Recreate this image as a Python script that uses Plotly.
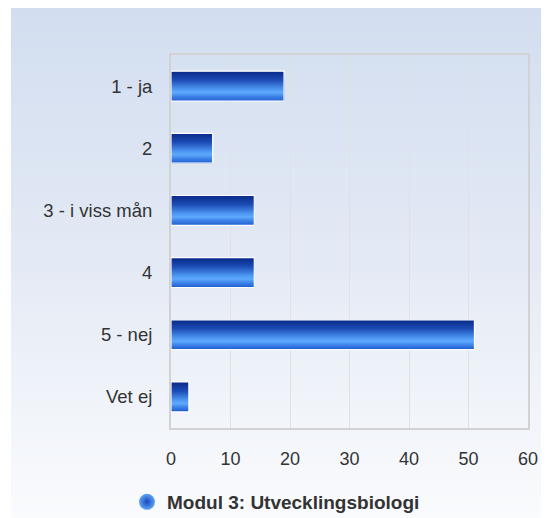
import plotly.graph_objects as go

# ---- data ----
categories = ["1 - ja", "2", "3 - i viss mån", "4", "5 - nej", "Vet ej"]
values = [19, 7, 14, 14, 51, 3]
x_tick_values = [0, 10, 20, 30, 40, 50, 60]
series_name = "Modul 3: Utvecklingsbiologi"

# ---- style helpers ----
def lerp_stops(stops, t):
    for (t0, c0), (t1, c1) in zip(stops[:-1], stops[1:]):
        if t0 <= t <= t1:
            f = 0 if t1 == t0 else (t - t0) / (t1 - t0)
            c = [round(a + (b - a) * f) for a, b in zip(c0, c1)]
            return "rgb(%d,%d,%d)" % tuple(c)
    c = stops[-1][1]
    return "rgb(%d,%d,%d)" % tuple(c)

bar_stops = [
    (0.0, (10, 42, 135)),
    (0.30, (28, 76, 182)),
    (0.62, (80, 154, 245)),
    (0.72, (94, 170, 252)),
    (0.86, (58, 126, 230)),
    (1.0, (34, 98, 208)),
]
bg_stops = [(0.0, (210, 222, 240)), (0.5, (228, 234, 245)), (1.0, (250, 251, 253))]

W = 0.48
N = 30
fig = go.Figure()
for i in range(N):
    t = (i + 0.5) / N
    fig.add_trace(go.Bar(
        y=categories, x=values, orientation="h",
        offset=-W / 2 + i * W / N, width=W - i * W / N,
        marker=dict(color=lerp_stops(bar_stops, t), line=dict(width=0)),
        showlegend=False, hoverinfo="skip",
    ))
# white outline
fig.add_trace(go.Bar(
    y=categories, x=values, orientation="h", offset=-W / 2, width=W,
    marker=dict(color="rgba(0,0,0,0)", line=dict(color="white", width=1.2)),
    showlegend=False, name=series_name,
))
# legend entry
fig.add_trace(go.Scatter(
    x=[None], y=[None], mode="markers", name=series_name,
    marker=dict(symbol="circle", size=20, color="#5da4f7",
                gradient=dict(type="radial", color="#1a48b8"), line=dict(width=0)),
))

# page has an 8px body margin; figure coords = page coords - 8.
# Figure is a bit taller than the window so the legend needs no margin push.
OFF = 8
Wfig, Hfig = 549 - OFF, 530
L, R, T, B = 171 - OFF, 528 - OFF, 55 - OFF, 428 - OFF
def px_x(px):
    return (px - OFF - L) / (R - L)
def px_y(py):
    return (B - (py - OFF)) / (B - T)

shapes = []
M = 64
top_px, bot_px = 6, 520
for k in range(M):
    y0px = top_px + (bot_px - top_px) * k / M
    t = k / (M - 1)
    shapes.append(dict(
        type="rect", xref="paper", yref="paper", layer="below",
        x0=px_x(11), x1=px_x(552), y0=px_y(545), y1=px_y(y0px),
        fillcolor=lerp_stops(bg_stops, t), line=dict(width=0),
    ))

font_family = "Liberation Sans, Arial, sans-serif"
fig.update_layout(
    width=Wfig, height=Hfig,
    margin=dict(l=L, r=Wfig - R, t=T, b=Hfig - B),
    paper_bgcolor="white", plot_bgcolor="rgba(0,0,0,0)",
    barmode="overlay",
    shapes=shapes,
    font=dict(family=font_family, size=18, color="#333333"),
    showlegend=True,
    legend=dict(
        orientation="h", x=px_x(127), xanchor="left", y=px_y(502), yanchor="middle",
        font=dict(family=font_family, size=19, color="#333333", weight="bold"),
        bgcolor="rgba(0,0,0,0)",
    ),
    xaxis=dict(
        range=[0, 60], tickvals=x_tick_values, ticktext=[str(v) for v in x_tick_values],
        showgrid=True, gridcolor="#dfe1e4", gridwidth=1,
        showline=True, linecolor="#d2d2d2", linewidth=2, mirror=True,
        zeroline=False, ticks="", ticklabelstandoff=13, automargin=False,
        tickfont=dict(size=18, color="#333333"),
    ),
    yaxis=dict(
        type="category", categoryorder="array", categoryarray=categories,
        range=[5.5, -0.5],
        showgrid=False, showline=True, linecolor="#d2d2d2", linewidth=2, mirror=True,
        zeroline=False, ticks="", ticklabelstandoff=13, automargin=False,
        tickfont=dict(size=18.5, color="#333333"),
    ),
)
fig.write_html("out.html")
